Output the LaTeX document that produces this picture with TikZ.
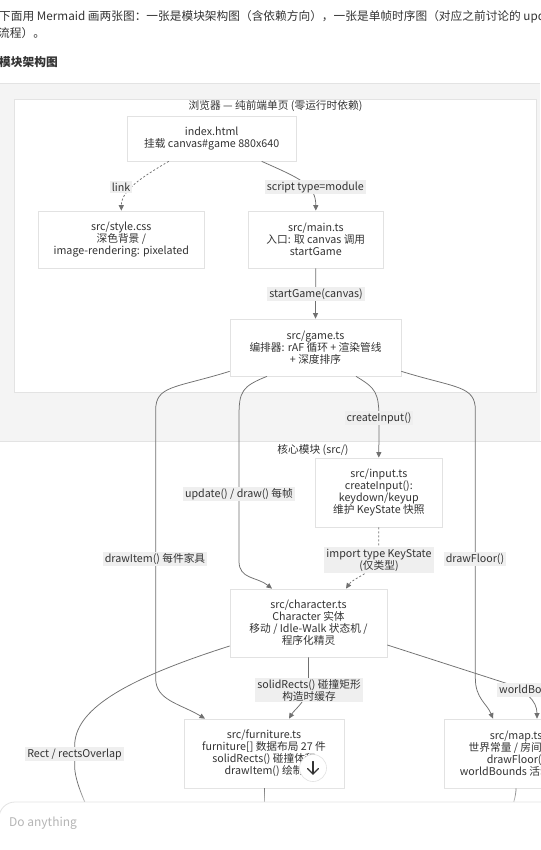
\documentclass[tikz,border=0pt]{standalone}
\usepackage{fontspec}
\setmainfont{Noto Sans CJK SC}
\usetikzlibrary{arrows.meta}
\definecolor{txt}{HTML}{333333}
\definecolor{pagebg}{HTML}{F4F4F4}
\definecolor{edgec}{HTML}{707070}
\definecolor{nodeb}{HTML}{E2E2E2}
\definecolor{lblbg}{HTML}{EFEFEF}
\definecolor{sepc}{HTML}{E3E3E3}
\definecolor{phc}{HTML}{B5B5B5}
\tikzset{
  nfont/.style={font=\fontsize{10.7}{12}\selectfont},
  box/.style={draw=nodeb, fill=white, line width=0.7pt, align=center, text=txt, nfont, inner sep=0pt},
  edge/.style={draw=edgec, line width=0.75pt, -{Triangle[length=5.5pt,width=5pt]}},
  plainedge/.style={draw=edgec, line width=0.75pt},
  dotline/.style={dash pattern=on 2pt off 2pt},
  lbl/.style={fill=lblbg, text=txt, nfont, align=center, inner xsep=2pt, inner ysep=1.5pt},
  sgtitle/.style={text=txt, nfont, inner sep=0pt},
}
\begin{document}
\begin{tikzpicture}[x=1pt,y=-1pt]
\useasboundingbox (0,0) rectangle (540,850);
\fill[white] (0,0) rectangle (540,850);
% header
\node[anchor=west, text=txt, font=\fontsize{11.7}{14}\selectfont, inner sep=0pt] (hd1) at (-1,17) {下面用 Mermaid 画两张图：一张是模块架构图（含依赖方向），一张是单帧时序图（对应之前讨论的 update};
\node[anchor=west, text=txt, font=\fontsize{11.7}{14}\selectfont, inner sep=0pt] (hd2) at (-2,33) {流程）。};
\node[anchor=west, text=txt, font=\fontsize{11.7}{14}\selectfont\bfseries, inner sep=0pt] (hd3) at (-1,62) {模块架构图};
% container
\fill[pagebg] (0,83.5) rectangle (540,441.5);
\draw[sepc, line width=0.8pt] (0,83.5) -- (540,83.5);
% subgraph browser
\draw[draw=sepc, fill=white, line width=0.7pt] (14.5,99) rectangle (536,392);
\node[sgtitle] (sg1) at (275.5,106) {浏览器 — 纯前端单页 (零运行时依赖)};
% subgraph core
\draw[draw=sepc, fill=white, line width=0.7pt] (-5,441.5) rectangle (600,900);
\node[sgtitle] (sg2) at (313,450) {核心模块 (src/)};
% nodes
\node[box, minimum width=168.6pt, minimum height=45pt] (idx) at (211.7,138.5) {index.html\\挂载 canvas\#game 880x640};
\node[box, minimum width=165.4pt, minimum height=57pt] (css) at (121.3,239.5) {src/style.css\\深色背景 /\\image-rendering: pixelated};
\node[box, minimum width=134.4pt, minimum height=57pt] (mainn) at (315.8,239.5) {src/main.ts\\入口: 取 canvas 调用\\startGame};
\node[box, minimum width=171pt, minimum height=57pt] (game) at (315.5,347.5) {src/game.ts\\编排器: rAF 循环 + 渲染管线\\+ 深度排序};
\node[box, minimum width=127.5pt, minimum height=69pt] (input) at (378.8,492.5) {src/input.ts\\createInput():\\keydown/keyup\\维护 KeyState 快照};
\node[box, minimum width=157pt, minimum height=68pt] (charac) at (308.5,623) {src/character.ts\\Character 实体\\移动 / Idle-Walk 状态机 /\\程序化精灵};
\node[box, minimum width=160pt, minimum height=69pt] (furn) at (264,753.5) {src/furniture.ts\\furniture[] 数据布局 27 件\\solidRects() 碰撞体积\\drawItem() 绘制};
\node[box, minimum width=144pt, minimum height=69pt] (map) at (516,753.5) {src/map.ts\\世界常量 / 房间尺寸\\drawFloor()\\worldBounds 活动范围};
\coordinate (rectEnd) at (89,812);
\coordinate (furnEnd) at (264,815);
\coordinate (mapEnd) at (511,812);
% edges
\draw[edge, dotline] ([xshift=-43pt]idx.south) .. controls +(-20,12) and +(0,-22) .. (css.north);
\draw[edge] ([xshift=50pt]idx.south) .. controls +(38,17) and +(0,-26) .. (mainn.north);
\draw[edge] (mainn.south) -- (game.north);
\draw[edge] ([xshift=40.5pt]game.south) .. controls +(20,12) and +(0,-28) .. ++(23,44) -- (input.north);
\draw[edge] ([xshift=-48.5pt]game.south) .. controls +(-25,10) and +(0,-25) .. ++(-28,40) -- ++(0,145) .. controls +(0,18) and +(-15,-12) .. ([xshift=-36.5pt]charac.north);
\draw[edge] ([yshift=5pt]game.south west) .. controls +(-55,17) and +(0,-25) .. ++(-74,39) -- ++(0,268) .. controls +(0,22) and +(-25,-15) .. ([xshift=-59pt]furn.north);
\draw[edge] ([yshift=5pt]game.south east) .. controls +(55,17) and +(0,-25) .. ++(74,39) -- ++(0,268) .. controls +(0,20) and +(-6,-15) .. ([xshift=-23pt]map.north);
\draw[edge, dotline] (input.south) -- ++(0,25) .. controls +(0,20) and +(8,-12) .. ([xshift=37.5pt]charac.north);
\draw[edge] (charac.south) -- ++(0,25) .. controls +(0,18) and +(6,-10) .. ([xshift=25pt]furn.north);
\draw[edge] ([yshift=-22pt]charac.east) -- ++(118,38) .. controls +(20,7) and +(0,-18) .. ([xshift=21pt]map.north);
\draw[plainedge] ([yshift=-23pt]charac.west) .. controls +(-110,35) and +(0,-35) .. ++(-155,100) -- ++(0,20) .. controls +(0,15) and +(-4,-10) .. (rectEnd);
\draw[plainedge] (furn.south) -- (furnEnd);
\draw[plainedge] (map.south) .. controls +(0,8) and +(2,-8) .. (mapEnd);
% labels
\node[lbl] (l1) at (121,187) {link};
\node[lbl] (l2) at (315.4,187) {script type=module};
\node[lbl] (l3) at (316,294) {startGame(canvas)};
\node[lbl] (l4) at (379,418) {createInput()};
\node[lbl] (l5) at (239,494) {update() / draw() 每帧};
\node[lbl] (l6) at (155,559) {drawItem() 每件家具};
\node[lbl] (l7) at (475,559) {drawFloor()};
\node[lbl] (l8) at (379,560) {import type KeyState\\(仅类型)};
\node[lbl] (l9) at (309,690) {solidRects() 碰撞矩形\\构造时缓存};
\node[lbl, anchor=west] (l10) at (497,690) {worldBounds()};
\node[lbl] (l11) at (74.5,754) {Rect / rectsOverlap};
% scroll-down button
\node[circle, fill=white, draw=nodeb, line width=0.6pt, minimum size=27pt, inner sep=0pt] (down) at (313,768) {};
\draw[txt, line width=1.1pt, line cap=round, line join=round] ([yshift=6.5pt]down.center) -- ([yshift=-6pt]down.center);
\draw[txt, line width=1.1pt, line cap=round, line join=round] ([xshift=-5.5pt,yshift=-0.5pt]down.center) -- ([yshift=-6pt]down.center) -- ([xshift=5.5pt,yshift=-0.5pt]down.center);
% fade and chat box
\foreach \i in {0,...,7} { \fill[white, opacity=0.07*\i] (0,786+2*\i) rectangle (540,788+2*\i); }
\draw[draw=sepc, fill=white, line width=0.8pt, rounded corners=16pt] (-1,802) rectangle (560,890);
\node[anchor=west, text=phc, font=\fontsize{12}{14}\selectfont, inner sep=0pt] (ph) at (9,823) {Do anything};
\end{tikzpicture}
\end{document}
